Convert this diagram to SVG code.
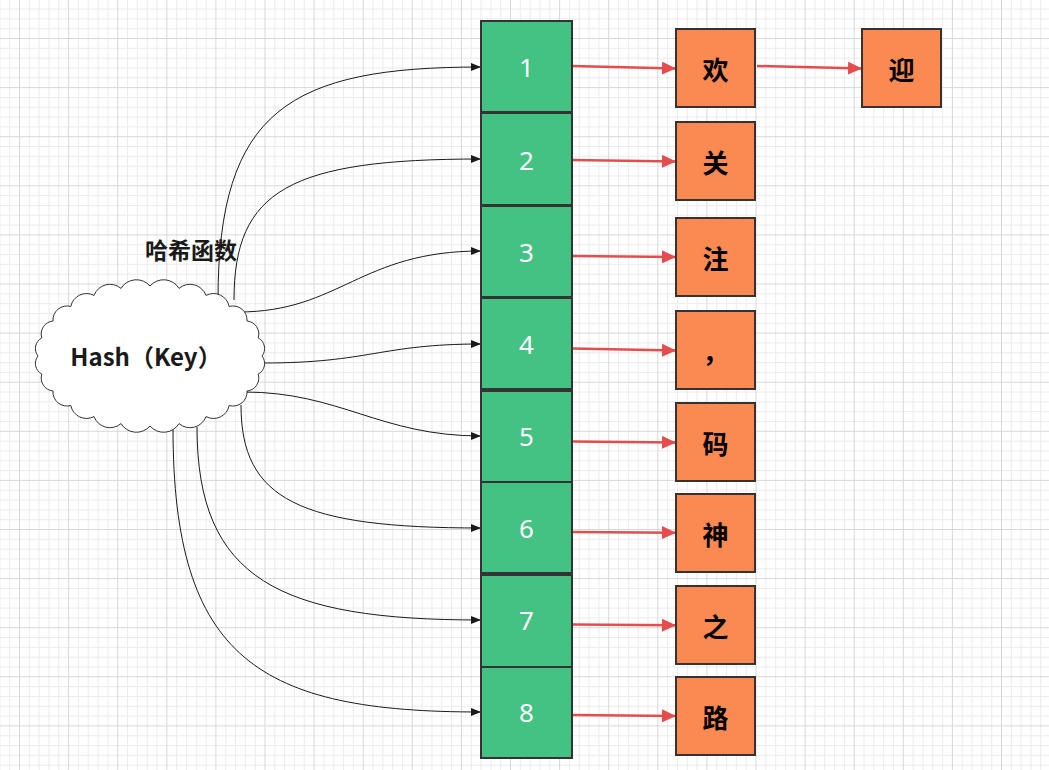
<svg xmlns="http://www.w3.org/2000/svg" width="1049" height="770" viewBox="0 0 1049 770">
<style>
.cell{fill:#44c283;stroke:#333333;stroke-width:2}
.item{fill:#fb8952;stroke:#333333;stroke-width:2}
.num{font-family:"Noto Sans","Liberation Sans",sans-serif;font-size:26px;fill:#ffffff;text-anchor:middle}
.chr{font-family:"Noto Sans CJK SC",sans-serif;font-size:26px;font-weight:bold;fill:#000000;text-anchor:middle}
.lbl{font-family:"Noto Sans CJK SC",sans-serif;font-weight:bold;fill:#1a1a1a;text-anchor:middle}
.hash{fill:none;stroke:#1a1a1a;stroke-width:1}
.link{fill:none;stroke:#e54d4d;stroke-width:2.5}
</style>
<defs>
<pattern id="grid" patternUnits="userSpaceOnUse" x="19" y="38" width="49.1" height="49.1">
<rect x="0" y="0" width="49.1" height="49.1" fill="#ffffff"/>
<g fill="#ececec">
<rect x="9.82" y="0" width="1" height="49.1"/>
<rect x="19.64" y="0" width="1" height="49.1"/>
<rect x="29.46" y="0" width="1" height="49.1"/>
<rect x="39.28" y="0" width="1" height="49.1"/>
<rect x="0" y="9.82" width="49.1" height="1"/>
<rect x="0" y="19.64" width="49.1" height="1"/>
<rect x="0" y="29.46" width="49.1" height="1"/>
<rect x="0" y="39.28" width="49.1" height="1"/>
</g>
<rect x="0" y="0" width="1" height="49.1" fill="#d8d8d8"/>
<rect x="0" y="0" width="49.1" height="1" fill="#d8d8d8"/>
</pattern>
<marker id="ab" markerUnits="userSpaceOnUse" markerWidth="10" markerHeight="8" refX="10" refY="4" orient="auto">
<path d="M0,0 L10,4 L0,8 Z" fill="#1a1a1a"/>
</marker>
<marker id="ar" markerUnits="userSpaceOnUse" markerWidth="14" markerHeight="13" refX="14" refY="6.5" orient="auto">
<path d="M0,0 L14,6.5 L0,13 Z" fill="#e54d4d"/>
</marker>
</defs>
<rect x="0" y="0" width="1049" height="770" fill="url(#grid)"/>

<g id="connectors">
<path class="hash" marker-end="url(#ab)" d="M218,300 C218,110 290,67 481,67"/>
<path class="hash" marker-end="url(#ab)" d="M234,300 C234,190 290,159 481,159"/>
<path class="hash" marker-end="url(#ab)" d="M238,312 C340,312 360,251 481,251"/>
<path class="hash" marker-end="url(#ab)" d="M263,363 C370,363 380,344 481,344"/>
<path class="hash" marker-end="url(#ab)" d="M244,392 C340,392 380,436 481,436"/>
<path class="hash" marker-end="url(#ab)" d="M241,405 C241,500 300,528 481,528"/>
<path class="hash" marker-end="url(#ab)" d="M197,427 C197,580 280,620 481,620"/>
<path class="hash" marker-end="url(#ab)" d="M173,428 C173,660 260,712 481,712"/>
<path class="link" marker-end="url(#ar)" d="M572,66 L676,68.5"/>
<path class="link" marker-end="url(#ar)" d="M757,66 L862,68.5"/>
<path class="link" marker-end="url(#ar)" d="M572,160 L676,161.5"/>
<path class="link" marker-end="url(#ar)" d="M572,256 L676,257"/>
<path class="link" marker-end="url(#ar)" d="M572,348.5 L676,350.5"/>
<path class="link" marker-end="url(#ar)" d="M572,441.5 L676,442.5"/>
<path class="link" marker-end="url(#ar)" d="M572,532 L676,532.7"/>
<path class="link" marker-end="url(#ar)" d="M572,624.5 L676,625.3"/>
<path class="link" marker-end="url(#ar)" d="M572,715 L676,716"/>
</g>

<g id="hash-cloud">
<path fill="#ffffff" stroke="#333333" stroke-width="1" d="M262,356 A12,12 0 0 1 258.2,374.1 A13,13 0 0 1 247,391 A14,14 0 0 1 229.2,405.5 A16,16 0 0 1 206,416.6 A17,17 0 0 1 179,423.6 A18,18 0 0 1 150,426 A18,18 0 0 1 121,423.6 A17,17 0 0 1 94,416.6 A16,16 0 0 1 70.8,405.5 A14,14 0 0 1 53,391 A13,13 0 0 1 41.8,374.1 A12,12 0 0 1 38,356 A12,12 0 0 1 41.8,337.9 A13,13 0 0 1 53,321 A14,14 0 0 1 70.8,306.5 A16,16 0 0 1 94,295.4 A17,17 0 0 1 121,288.4 A18,18 0 0 1 150,286 A18,18 0 0 1 179,288.4 A17,17 0 0 1 206,295.4 A16,16 0 0 1 229.2,306.5 A14,14 0 0 1 247,321 A13,13 0 0 1 258.2,337.9 A12,12 0 0 1 262,356 Z"/>
<text class="lbl" x="146" y="366" font-size="24">Hash（Key）</text>
</g>

<g id="hash-label">
<text class="lbl" x="191" y="259" font-size="23">哈希函数</text>
</g>

<g id="cell-1"><rect class="cell" x="481" y="21" width="91" height="91"/><text class="num" x="526.5" y="76.5">1</text></g>
<g id="cell-2"><rect class="cell" x="481" y="113" width="91" height="92"/><text class="num" x="526.5" y="169.5">2</text></g>
<g id="cell-3"><rect class="cell" x="481" y="206" width="91" height="91"/><text class="num" x="526.5" y="261.5">3</text></g>
<g id="cell-4"><rect class="cell" x="481" y="298" width="91" height="91"/><text class="num" x="526.5" y="354">4</text></g>
<g id="cell-5"><rect class="cell" x="481" y="391" width="91" height="91"/><text class="num" x="526.5" y="446">5</text></g>
<g id="cell-6"><rect class="cell" x="481" y="482" width="91" height="91"/><text class="num" x="526.5" y="538">6</text></g>
<g id="cell-7"><rect class="cell" x="481" y="575" width="91" height="92"/><text class="num" x="526.5" y="630">7</text></g>
<g id="cell-8"><rect class="cell" x="481" y="667" width="91" height="91"/><text class="num" x="526.5" y="722">8</text></g>

<g id="item-huan"><rect class="item" x="676" y="29" width="79" height="78"/><text class="chr" x="715.5" y="80">欢</text></g>
<g id="item-ying"><rect class="item" x="862" y="29" width="79" height="78"/><text class="chr" x="901.5" y="80">迎</text></g>
<g id="item-guan"><rect class="item" x="676" y="122" width="79" height="78"/><text class="chr" x="715.5" y="173">关</text></g>
<g id="item-zhu"><rect class="item" x="676" y="218" width="79" height="78"/><text class="chr" x="715.5" y="269">注</text></g>
<g id="item-comma"><rect class="item" x="676" y="311" width="79" height="78"/><text class="chr" x="715.5" y="362">，</text></g>
<g id="item-ma"><rect class="item" x="676" y="403" width="79" height="78"/><text class="chr" x="715.5" y="454">码</text></g>
<g id="item-shen"><rect class="item" x="676" y="494" width="79" height="78"/><text class="chr" x="715.5" y="545">神</text></g>
<g id="item-zhi"><rect class="item" x="676" y="586" width="79" height="78"/><text class="chr" x="715.5" y="637">之</text></g>
<g id="item-lu"><rect class="item" x="676" y="677" width="79" height="78"/><text class="chr" x="715.5" y="728">路</text></g>
</svg>
